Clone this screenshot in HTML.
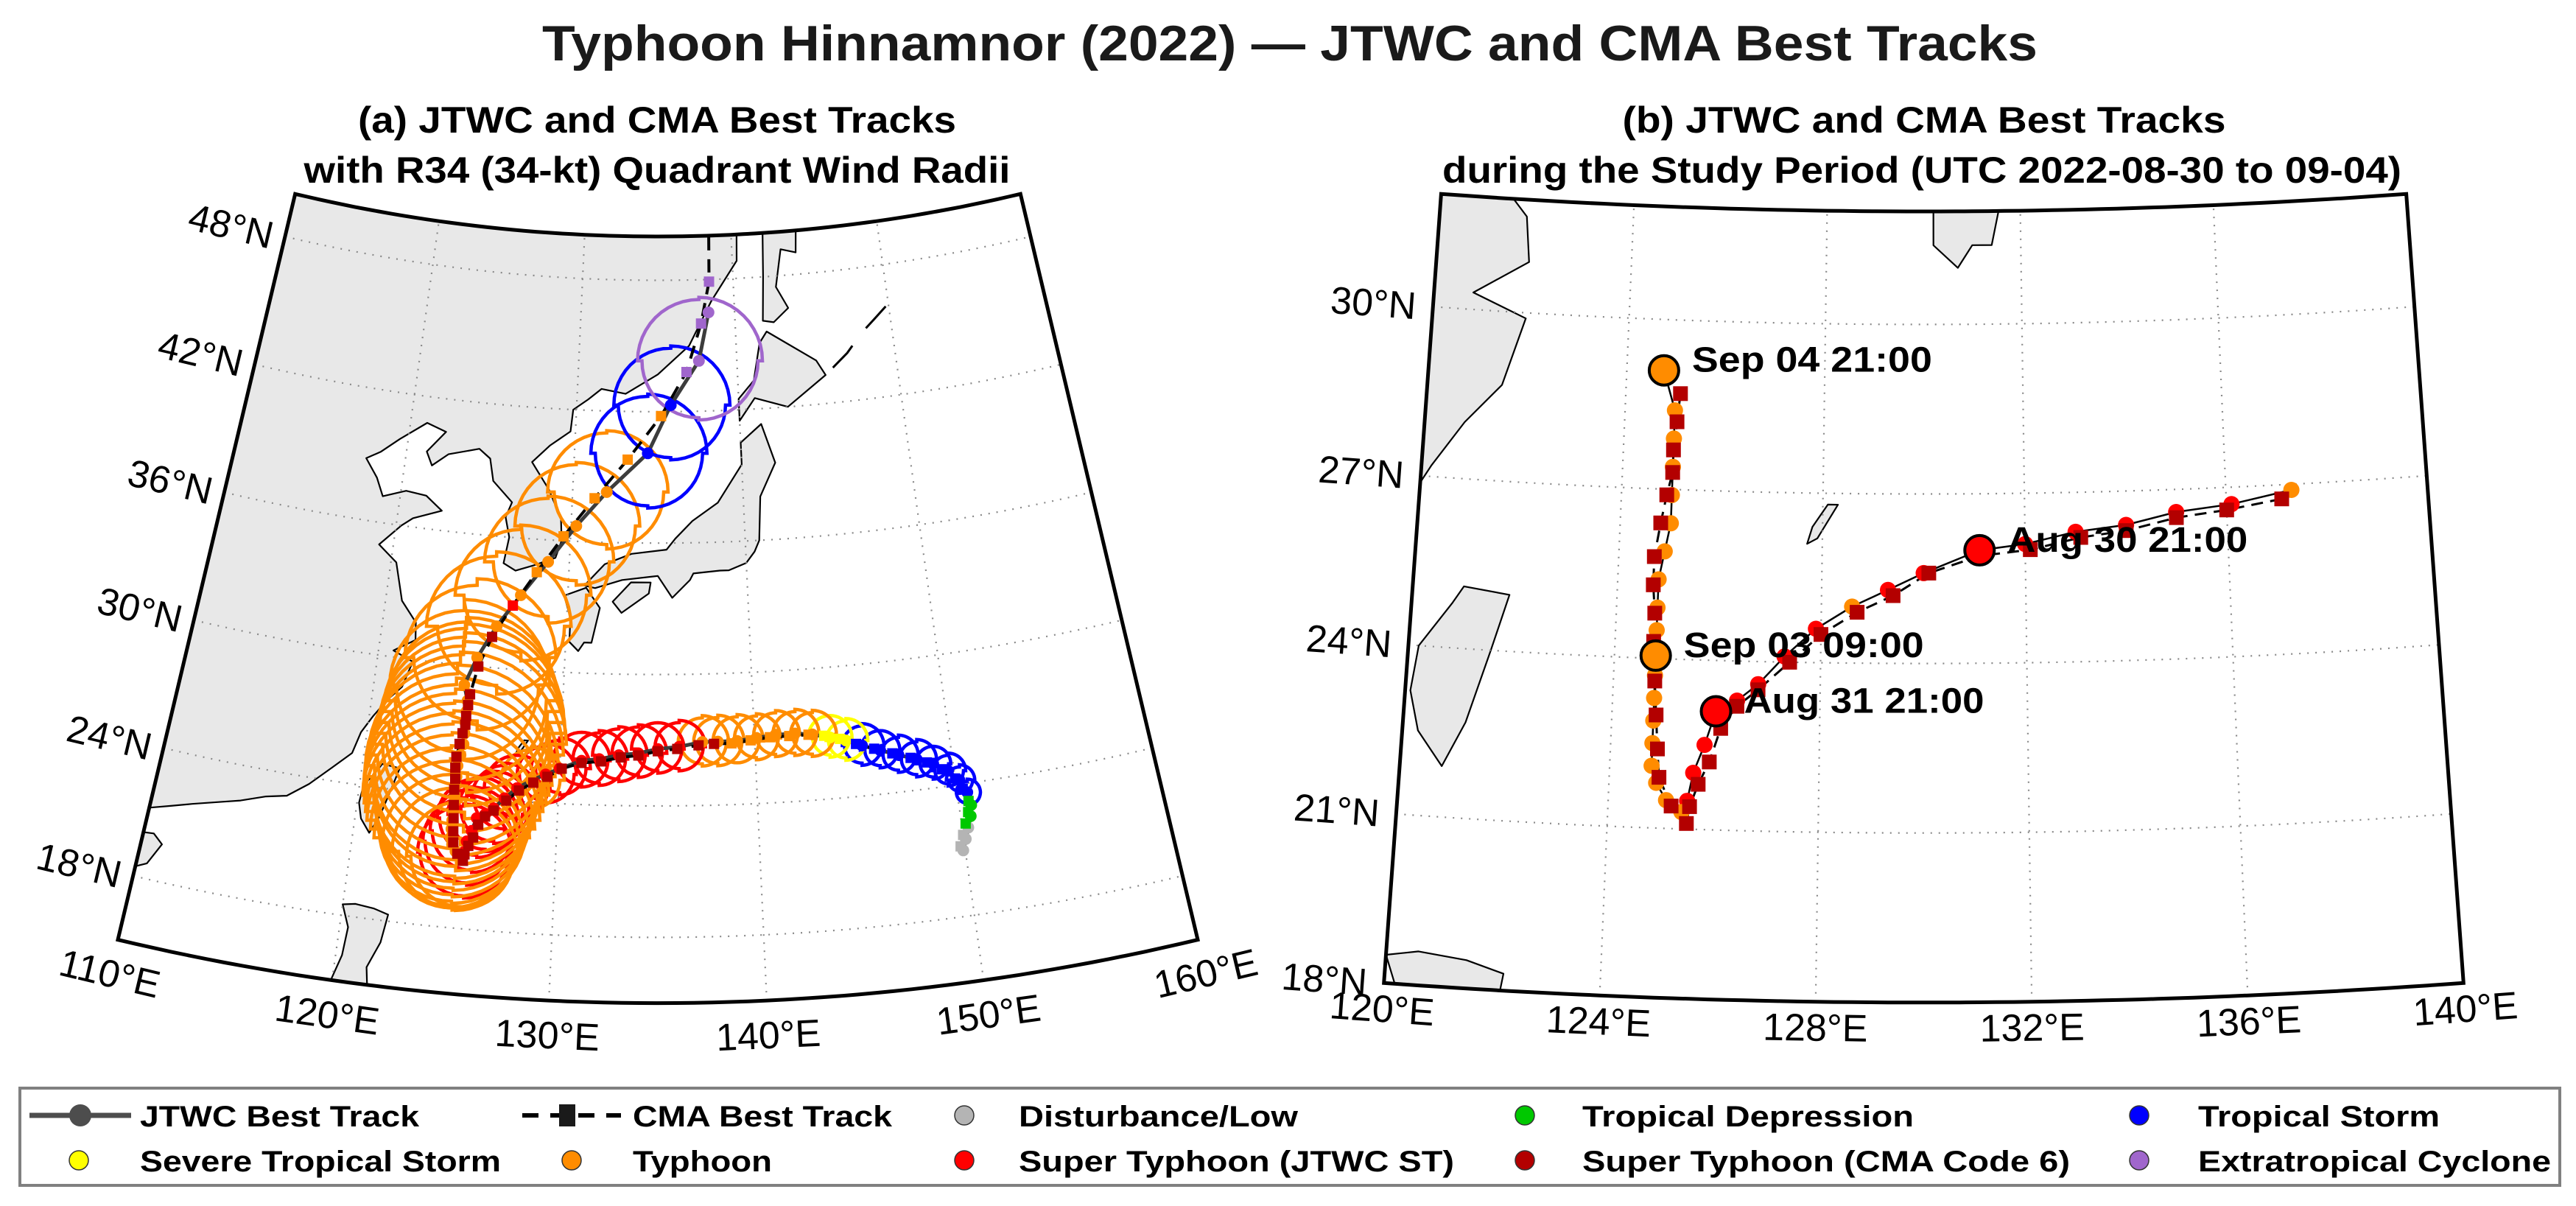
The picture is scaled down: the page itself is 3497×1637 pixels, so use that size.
<!DOCTYPE html>
<html><head><meta charset="utf-8"><title>Typhoon Hinnamnor (2022)</title>
<style>html,body{margin:0;padding:0;background:#fff}svg{display:block;font-family:"Liberation Sans",Arial,sans-serif}</style>
</head><body>
<svg id="fig" width="3497" height="1637" viewBox="0 0 3497 1637" xmlns="http://www.w3.org/2000/svg">
<rect x="0" y="0" width="3497" height="1637" fill="#fff"/>
<text x="1751" y="82" text-anchor="middle" font-size="68" font-weight="bold" textLength="2030" lengthAdjust="spacingAndGlyphs" fill="#1a1a1a">Typhoon Hinnamnor (2022) — JTWC and CMA Best Tracks</text>
<text x="892" y="180" text-anchor="middle" font-size="50" font-weight="bold" textLength="812" lengthAdjust="spacingAndGlyphs">(a) JTWC and CMA Best Tracks</text>
<text x="892" y="248" text-anchor="middle" font-size="50" font-weight="bold" textLength="959" lengthAdjust="spacingAndGlyphs">with R34 (34-kt) Quadrant Wind Radii</text>
<text x="2612" y="180" text-anchor="middle" font-size="50" font-weight="bold" textLength="819" lengthAdjust="spacingAndGlyphs">(b) JTWC and CMA Best Tracks</text>
<text x="2609" y="248" text-anchor="middle" font-size="50" font-weight="bold" textLength="1302" lengthAdjust="spacingAndGlyphs">during the Study Period (UTC 2022-08-30 to 09-04)</text>
<g id="panelA"></g>
<g id="panelB"></g>
<g id="legend">
<rect x="27" y="1477" width="3448" height="132" fill="#fff" stroke="#808080" stroke-width="4"/>
<g>
<line x1="40" y1="1514" x2="178" y2="1514" stroke="#4d4d4d" stroke-width="7"/>
<circle cx="109" cy="1514" r="15" fill="#4d4d4d"/>
<text x="190" y="1529" font-size="40" font-weight="bold" textLength="379" lengthAdjust="spacingAndGlyphs">JTWC Best Track</text></g>
<g>
<line x1="709" y1="1514" x2="843" y2="1514" stroke="#000" stroke-width="6" stroke-dasharray="22,16"/>
<rect x="759" y="1499" width="22" height="30" fill="#1a1a1a"/>
<text x="859" y="1529" font-size="40" font-weight="bold" textLength="352" lengthAdjust="spacingAndGlyphs">CMA Best Track</text></g>
<g><circle cx="1309" cy="1514" r="13" fill="#b4b4b4" stroke="#333" stroke-width="1.5"/><text x="1383" y="1529" font-size="40" font-weight="bold" textLength="379" lengthAdjust="spacingAndGlyphs">Disturbance/Low</text></g>
<g><circle cx="2070" cy="1514" r="13" fill="#00c800" stroke="#333" stroke-width="1.5"/><text x="2148" y="1529" font-size="40" font-weight="bold" textLength="450" lengthAdjust="spacingAndGlyphs">Tropical Depression</text></g>
<g><circle cx="2904" cy="1514" r="13" fill="#0000ff" stroke="#333" stroke-width="1.5"/><text x="2984" y="1529" font-size="40" font-weight="bold" textLength="328" lengthAdjust="spacingAndGlyphs">Tropical Storm</text></g>
<g><circle cx="107" cy="1575" r="13" fill="#ffff00" stroke="#333" stroke-width="1.5"/><text x="190" y="1590" font-size="40" font-weight="bold" textLength="490" lengthAdjust="spacingAndGlyphs">Severe Tropical Storm</text></g>
<g><circle cx="776" cy="1575" r="13" fill="#ff8c00" stroke="#333" stroke-width="1.5"/><text x="859" y="1590" font-size="40" font-weight="bold" textLength="189" lengthAdjust="spacingAndGlyphs">Typhoon</text></g>
<g><circle cx="1309" cy="1575" r="13" fill="#ff0000" stroke="#333" stroke-width="1.5"/><text x="1383" y="1590" font-size="40" font-weight="bold" textLength="591" lengthAdjust="spacingAndGlyphs">Super Typhoon (JTWC ST)</text></g>
<g><circle cx="2070" cy="1575" r="13" fill="#b30000" stroke="#333" stroke-width="1.5"/><text x="2148" y="1590" font-size="40" font-weight="bold" textLength="662" lengthAdjust="spacingAndGlyphs">Super Typhoon (CMA Code 6)</text></g>
<g><circle cx="2904" cy="1575" r="13" fill="#a066cc" stroke="#333" stroke-width="1.5"/><text x="2984" y="1590" font-size="40" font-weight="bold" textLength="479" lengthAdjust="spacingAndGlyphs">Extratropical Cyclone</text></g>
</g>
</svg>
<script>
// ---------------- data ----------------
const jtwcLon = [149.9,150.1,150.3,150.5,150.6,150.5,150.2,149.7,149.0,148.2,147.3,146.4,145.5,144.7,143.9,143.0,142.1,141.1,140.1,139.1,138.1,137.3,136.1,135.0,134.0,133.0,132.0,131.1,130.0,129.3,128.6,127.9,127.3,126.8,126.4,126.0,125.8,125.6,125.5,125.4,125.1,124.9,124.8,124.8,124.8,124.8,124.8,124.8,124.8,124.8,124.8,124.9,125.0,125.0,125.0,125.0,125.0,124.75,125.3,126.2,127.4,128.8,130.3,132.0,134.4,135.8,137.6,138.3];
const jtwcLat = [21.0,21.5,22.0,22.5,23.0,23.6,24.2,24.7,25.1,25.4,25.7,26.0,26.3,26.6,26.8,27.0,27.1,27.1,27.0,26.9,26.9,26.9,26.7,26.6,26.4,26.3,26.1,26.0,25.6,25.3,25.0,24.6,24.1,23.6,23.3,23.1,22.5,22.0,21.5,21.3,21.5,21.8,22.1,22.5,22.9,23.3,23.7,24.05,24.5,24.9,25.4,25.9,26.4,26.9,27.4,27.9,28.4,29.1,30.4,31.9,33.4,35.0,36.7,38.3,40.1,42.3,44.3,46.5];
const jtwcCat = ['D','D','D','TD','TD','TS','TS','TS','TS','TS','TS','TS','TS','STS','STS','TY','TY','TY','TY','TY','TY','TY','STY','STY','STY','STY','STY','STY','STY','STY','TY','STY','STY','STY','STY','STY','STY','STY','STY','TY','TY','TY','TY','TY','TY','TY','TY','TY','TY','TY','TY','TY','TY','TY','TY','TY','TY','TY','TY','TY','TY','TY','TY','TY','TS','TS','EX','EX'];
const r34NE = [0,0,0,0,0,.6,.7,.8,.8,.9,.9,.9,1.0,1.0,1.0,1.1,1.1,1.1,1.1,1.2,1.2,1.2,1.2,1.2,1.3,1.3,1.3,1.3,1.4,1.4,1.5,1.5,1.6,1.7,1.8,1.9,2.0,2.1,2.2,2.6,3.0,3.3,3.6,3.8,4.0,4.1,4.2,4.3,4.4,4.5,4.6,4.7,4.7,4.6,4.5,4.3,4.1,3.9,3.6,3.4,3.2,3.0,2.9,2.8,2.7,2.7,2.9,0];
const r34SE = [0,0,0,0,0,.6,.6,.7,.7,.8,.8,.8,.9,.9,.9,1.0,1.0,1.0,1.0,1.0,1.1,1.1,1.1,1.1,1.1,1.2,1.2,1.2,1.2,1.3,1.3,1.4,1.5,1.6,1.7,1.8,1.9,2.0,2.1,2.4,2.7,3.0,3.2,3.4,3.5,3.6,3.7,3.8,3.9,4.0,4.1,4.1,4.0,3.9,3.8,3.7,3.6,3.4,3.3,3.1,3.0,2.8,2.7,2.6,2.5,2.5,2.7,0];
const r34SW = [0,0,0,0,0,.5,.5,.6,.6,.7,.7,.7,.8,.8,.8,.9,.9,.9,.9,1.0,1.0,1.0,1.0,1.0,1.0,1.1,1.1,1.1,1.1,1.2,1.2,1.3,1.4,1.5,1.6,1.7,1.8,1.9,2.0,2.3,2.6,2.9,3.1,3.3,3.4,3.5,3.6,3.7,3.7,3.8,3.8,3.8,3.7,3.6,3.5,3.4,3.3,3.1,2.9,2.7,2.6,2.5,2.5,2.4,2.4,2.4,2.6,0];
const r34NW = [0,0,0,0,0,.5,.6,.7,.8,.8,.8,.9,.9,.9,1.0,1.0,1.0,1.0,1.0,1.1,1.1,1.1,1.1,1.2,1.2,1.2,1.2,1.3,1.3,1.3,1.4,1.5,1.5,1.6,1.7,1.8,1.9,2.0,2.1,2.5,2.9,3.2,3.5,3.7,3.9,4.0,4.1,4.2,4.2,4.2,4.2,4.2,4.1,4.0,3.9,3.8,3.6,3.4,3.3,3.2,3.0,2.9,2.8,2.7,2.6,2.6,2.8,0];
const cmaLon = [149.8,150.0,150.2,150.4,150.5,150.3,150.0,149.4,148.7,147.9,147.0,146.1,145.2,144.4,143.6,142.8,141.8,140.8,139.8,138.8,137.9,137.1,136.0,135.0,134.0,133.1,132.1,131.1,130.1,129.4,128.7,128.0,127.4,126.8,126.4,126.1,125.9,125.7,125.55,125.5,125.2,124.95,124.9,124.85,124.8,124.75,124.75,124.7,124.7,124.8,124.9,125.0,125.0,125.05,125.1,125.4,126.0,127.0,128.2,129.6,131.3,133.2,135.2,136.8,137.8,138.4,138.5];
const cmaLat = [21.2,21.7,22.2,22.7,23.2,23.8,24.3,24.8,25.2,25.5,25.8,26.1,26.4,26.7,26.9,27.0,27.0,27.0,26.9,26.8,26.8,26.75,26.6,26.5,26.3,26.2,26.0,25.9,25.6,25.2,24.9,24.5,24.0,23.5,23.2,22.8,22.2,21.8,21.4,21.1,21.4,21.9,22.4,23.0,23.6,24.3,24.8,25.3,25.8,26.4,26.9,27.3,27.7,28.2,28.7,30.0,31.4,32.9,34.5,36.2,38.0,39.8,41.8,43.8,46.0,47.9,50.5];
const cmaCat = ['D','D','TD','TD','TD','TS','TS','TS','TS','TS','TS','TS','TS','STS','STS','TY','TY','TY','TY','TY','C6','C6','C6','C6','C6','C6','C6','C6','C6','C6','C6','C6','C6','C6','C6','C6','C6','C6','C6','C6','C6','C6','C6','C6','C6','C6','C6','C6','C6','C6','C6','C6','C6','C6','C6','C6','C6','STY','TY','TY','TY','TY','TY','EX','EX','EX','EX'];
// study-period index ranges (panel b)
const studyJtwc = [21,57];
const studyCma = [21,54];
const labelIdx = [27,35,47,57];
const labelText = ['Aug 30 21:00','Aug 31 21:00','Sep 03 09:00','Sep 04 21:00'];
const latTicksA = [18,24,30,36,42,48];
const lonTicksA = [110,120,130,140,150,160];
const latTicksB = [18,21,24,27,30];
const lonTicksB = [120,124,128,132,136,140];

const COL = {D:'#b4b4b4',TD:'#00c800',TS:'#0000ff',STS:'#ffff00',TY:'#ff8c00',STY:'#ff0000',C6:'#b30000',EX:'#a066cc'};

// coastlines (lon,lat)
const mainland = [[100,21.2],[110,21.2],[111,21.5],[112,21.8],[113.5,22.2],[114.3,22.4],[115.5,22.8],[116.5,23],[117.5,23.7],[118.5,24.6],[119.4,25.4],[119.7,26.4],[120.2,27.2],[120.8,28],[121.5,28.7],[121.9,29.9],[120.8,30.3],[121.9,30.9],[121.8,31.7],[120.9,32.6],[120.3,34.3],[119.2,35],[120.3,36],[120.9,36.4],[122.5,36.9],[121.5,37.5],[120.3,37.6],[119,37.2],[118.5,38],[117.7,38.8],[118.5,39.2],[119.5,39.9],[121,40.8],[122.2,40.5],[121.2,39.5],[121.6,38.9],[122.5,39.5],[124.3,39.9],[125,39.5],[125.3,38.5],[126.5,37.6],[126.2,36.9],[126.5,36],[126.3,34.8],[127,34.5],[128,34.8],[129.2,35.2],[129.5,36],[129.4,37],[128.6,38.3],[127.5,39.5],[128.5,40.3],[129.7,41],[129.8,42],[130.7,42.5],[131.5,43],[133,42.8],[135,43.7],[137,45],[138.5,47],[140.3,48.8],[140.6,53],[100,53]];
const hainan = [[108.6,19.2],[109.5,18.2],[110.5,18.7],[111,19.7],[110.5,20.1],[109.5,20]];
const taiwan = [[121.0,25.1],[121.9,25.0],[121.6,24.0],[121.2,22.7],[120.8,21.9],[120.3,22.5],[120.1,23.2],[120.2,24.0],[120.8,24.8]];
const luzon = [[120.0,18.5],[120.6,18.6],[121.5,18.5],[122.2,18.3],[122.0,17.0],[121.5,15.8],[121.7,14.5],[119.8,14.5],[120.3,16.2],[120.4,17.5]];
const kyushu = [[129.8,33.5],[131.0,33.9],[131.8,33.0],[131.4,31.4],[131.0,31.4],[130.7,31.0],[130.2,31.4],[130.2,32.5]];
const shikoku = [[132.5,33.3],[133.5,34.2],[134.6,34.2],[134.5,33.7],[133.0,32.8]];
const honshu = [[130.9,34],[132,35],[133.5,35.5],[135.5,35.7],[136,36.2],[137,37],[138.5,37.8],[140,39.5],[140,40.5],[141.3,41.3],[142,39.5],[141,38],[140.8,36],[140.5,35.5],[140,35],[139,34.7],[138.5,34.7],[137,34.6],[136.8,34.3],[135.8,33.5],[135,34.5],[133,34.3],[131.5,33.9]];
const hokkaido = [[140,41.5],[141,42.5],[143,42],[145.5,43.3],[145,44],[142,45.5],[141.5,45],[141,43.3],[140,42.5]];
const sakhalin = [[141.8,46],[142.5,45.9],[143.5,46.5],[142.8,47.5],[143.3,49.2],[144.3,49],[144.5,50.5],[142.2,50.5],[142,48]];
const okinawa = [[127.7,26.1],[127.9,26.2],[128.3,26.8],[128.1,26.8],[127.8,26.4]];
const kurils = [[146,43.6],[147,44.2],[148,45],[149,45.6],[150,46.2]];
const lands = [mainland,hainan,taiwan,luzon,kyushu,shikoku,honshu,hokkaido,sakhalin,okinawa];

// ---------------- projections ----------------
const D2R = Math.PI/180;
const A = {lon0:135,n:0.535,cx:893,ay:-1807,r0:2128,latTop:50,k:29.73,lonMin:110,lonMax:160,latMin:15,latMax:50};
const B = {lon0:130,n:0.415,cx:2611.5,ay:-8765,r0:9052,latTop:32,k:76.7,lonMin:120,lonMax:140,latMin:18,latMax:32};
function proj(P,lon,lat){const r=P.r0+(P.latTop-lat)*P.k;const t=(lon-P.lon0)*P.n*D2R;return [P.cx+r*Math.sin(t),P.ay+r*Math.cos(t)];}
const NS='http://www.w3.org/2000/svg';
function mk(tag,parent,attrs){const e=document.createElementNS(NS,tag);for(const k in attrs)e.setAttribute(k,attrs[k]);parent.appendChild(e);return e;}
function pathOf(P,pts,close){return pts.map((p,i)=>{const q=proj(P,p[0],p[1]);return (i?'L':'M')+q[0].toFixed(1)+','+q[1].toFixed(1);}).join('')+(close?'Z':'');}
function framePts(P){const pts=[];const N=60;
 for(let i=0;i<=N;i++)pts.push([P.lonMin+(P.lonMax-P.lonMin)*i/N,P.latMax]);
 for(let i=N;i>=0;i--)pts.push([P.lonMin+(P.lonMax-P.lonMin)*i/N,P.latMin]);return pts;}
function idxRange(r){const a=[];for(let i=r[0];i<=r[1];i++)a.push(i);return a;}

function drawPanel(P,g,id,opt){
 const clipId='clip'+id;
 const defs=mk('defs',g,{});
 const cp=mk('clipPath',defs,{id:clipId});
 mk('path',cp,{d:pathOf(P,framePts(P),true)});
 const body=mk('g',g,{'clip-path':'url(#'+clipId+')'});
 
 
 lands.forEach((L,i)=>{const e=mk('path',body,{d:pathOf(P,L,true),fill:'#e8e8e8',stroke:'#000','stroke-width':2.2,'stroke-linejoin':'round'});
  
  });
 const ku=mk('path',body,{d:pathOf(P,kurils,false),fill:'none',stroke:'#000','stroke-width':3,'stroke-dasharray':'40,30'});
 
 
 const gr=mk('g',body,{stroke:'#8a8a8a','stroke-width':2.2,'stroke-dasharray':'2,9',fill:'none'});
 
 
 opt.lonTicks.forEach(lon=>{const e=mk('path',gr,{d:pathOf(P,[[lon,P.latMin],[lon,P.latMax]],false)});
  
  });
 opt.latGrid.forEach(lat=>{const pts=[];for(let i=0;i<=60;i++)pts.push([P.lonMin+(P.lonMax-P.lonMin)*i/60,lat]);
  const e=mk('path',gr,{d:pathOf(P,pts,false)});
  
  });
 const jI=opt.jIdx, cI=opt.cIdx;
 if(opt.r34){const rg=mk('g',body,{fill:'none','stroke-width':4.5,'stroke-linejoin':'miter'});
  
  
  jI.forEach(i=>{const rs=[r34NE[i],r34SE[i],r34SW[i],r34NW[i]];if(!rs[0])return;
   const c=proj(P,jtwcLon[i],jtwcLat[i]);let d='';
   for(let q=0;q<4;q++)for(let k=0;k<=12;k++){const a=(q*90+k*7.5)*D2R;const r=rs[q]*P.k;d+=(d?'L':'M')+(c[0]+r*Math.sin(a)).toFixed(1)+','+(c[1]-r*Math.cos(a)).toFixed(1);}
   const e=mk('path',rg,{d:d+'Z',stroke:COL[jtwcCat[i]]});
   
   });}
 const jl=mk('path',body,{d:pathOf(P,jI.map(i=>[jtwcLon[i],jtwcLat[i]]),false),fill:'none',stroke:opt.jtwcLineCol,'stroke-width':opt.jw});
 
 
 const cl=mk('path',body,{d:pathOf(P,cI.map(i=>[cmaLon[i],cmaLat[i]]),false),fill:'none',stroke:'#000','stroke-width':opt.cw,'stroke-dasharray':opt.cdash});
 
 
 jI.forEach(i=>{const c=proj(P,jtwcLon[i],jtwcLat[i]);
  const e=mk('circle',body,{cx:c[0].toFixed(1),cy:c[1].toFixed(1),r:opt.mr,fill:COL[jtwcCat[i]]});
  
  });
 cI.forEach(i=>{const c=proj(P,cmaLon[i],cmaLat[i]);const s=opt.ms;
  const e=mk('rect',body,{x:(c[0]-s/2).toFixed(1),y:(c[1]-s/2).toFixed(1),width:s,height:s,fill:opt.cmaAllC6?COL.C6:COL[cmaCat[i]]});
  
  });
 if(opt.labels){labelIdx.forEach((idx,j)=>{const c=proj(P,jtwcLon[idx],jtwcLat[idx]);
  const m=mk('circle',body,{cx:c[0].toFixed(1),cy:c[1].toFixed(1),r:20,fill:COL[jtwcCat[idx]],stroke:'#000','stroke-width':4});
  
  
  const t=mk('text',g,{x:(c[0]+38).toFixed(1),y:(c[1]+2).toFixed(1),'font-size':48,'font-weight':'bold',textLength:326,lengthAdjust:'spacingAndGlyphs'});
  t.textContent=labelText[j];
  
  });}
 const fr=mk('path',g,{d:pathOf(P,framePts(P),true),fill:'none',stroke:'#000','stroke-width':5,'stroke-linejoin':'miter'});
 
 
 const tilt=(P.lonMax-P.lon0)*P.n;
 opt.latTicks.forEach(lat=>{const p=proj(P,P.lonMin,lat);const ax=p[0]-opt.latOff;
  const t=mk('text',g,{x:ax.toFixed(1),y:p[1].toFixed(1),'text-anchor':'end','dominant-baseline':'central','font-size':52,transform:'rotate('+tilt.toFixed(2)+' '+ax.toFixed(1)+' '+p[1].toFixed(1)+')'});
  t.textContent=lat+'°N';
  
  });
 opt.lonTicks.forEach(lon=>{const p=proj(P,lon,P.latMin);const th=(lon-P.lon0)*P.n;const d=opt.lonOff;
  const x=p[0]+d*Math.sin(th*D2R),y=p[1]+d*Math.cos(th*D2R);
  const t=mk('text',g,{x:x.toFixed(1),y:y.toFixed(1),'text-anchor':'middle','dominant-baseline':'central','font-size':52,transform:'rotate('+(-th).toFixed(2)+' '+x.toFixed(1)+' '+y.toFixed(1)+')'});
  t.textContent=lon+'°E';
  
  });
}
drawPanel(A,document.getElementById('panelA'),'a',{jIdx:idxRange([0,jtwcLon.length-1]),cIdx:idxRange([0,cmaLon.length-1]),lonTicks:lonTicksA,latTicks:latTicksA,latGrid:latTicksA,r34:true,jtwcLineCol:'#3c3c3c',jw:5,cw:4,cdash:'18,12',mr:8,ms:14,cmaAllC6:false,labels:false,latOff:17,lonOff:48});
drawPanel(B,document.getElementById('panelB'),'b',{jIdx:idxRange(studyJtwc),cIdx:idxRange(studyCma),lonTicks:lonTicksB,latTicks:latTicksB,latGrid:[21,24,27,30],r34:false,jtwcLineCol:'#000',jw:2.5,cw:3,cdash:'16,10',mr:11,ms:20,cmaAllC6:true,labels:true,latOff:23,lonOff:36});
</script>
</body></html>
